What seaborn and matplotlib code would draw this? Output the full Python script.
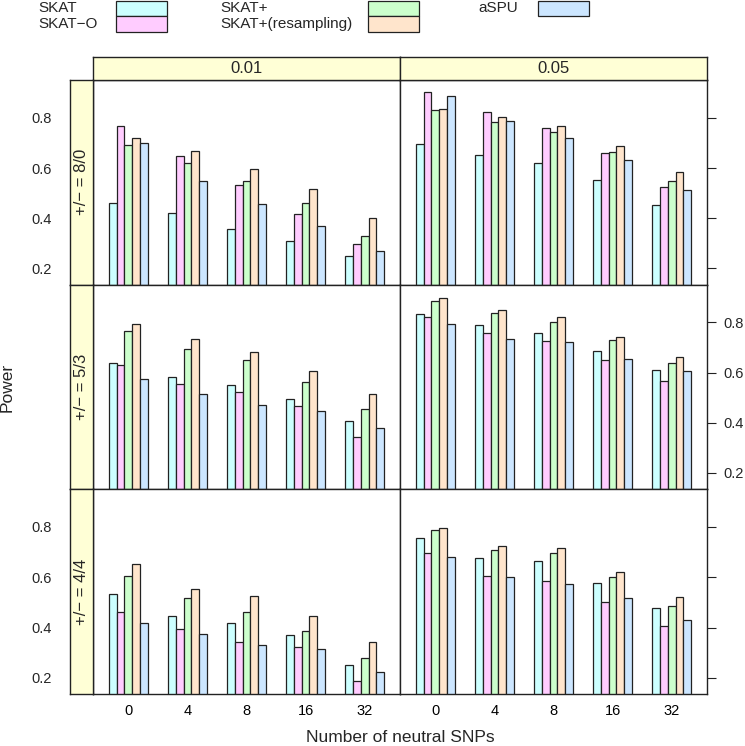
import numpy as np
import pandas as pd
import matplotlib.pyplot as plt
import seaborn as sns
from matplotlib.patches import Rectangle

# Methods, colours and x categories
methods = ["SKAT", "SKAT\u2212O", "SKAT+", "SKAT+(resampling)", "aSPU"]
colors = ["#CCFFFF", "#FFCCFF", "#CCFFCC", "#FFE5CC", "#CCE6FF"]
snps = ["0", "4", "8", "16", "32"]
alphas = ["0.01", "0.05"]
ratios = ["+/\u2212 = 8/0", "+/\u2212 = 5/3", "+/\u2212 = 4/4"]

# Power values (rows = methods, columns = number of neutral SNPs)
pow_a01_80 = [[0.460, 0.420, 0.356, 0.308, 0.249],
              [0.767, 0.649, 0.533, 0.416, 0.296],
              [0.693, 0.619, 0.547, 0.461, 0.331],
              [0.720, 0.669, 0.596, 0.515, 0.400],
              [0.699, 0.548, 0.457, 0.369, 0.268]]
pow_a05_80 = [[0.696, 0.651, 0.619, 0.552, 0.453],
              [0.903, 0.824, 0.760, 0.659, 0.525],
              [0.832, 0.785, 0.744, 0.665, 0.547],
              [0.837, 0.803, 0.767, 0.688, 0.583],
              [0.887, 0.788, 0.721, 0.633, 0.512]]
pow_a01_53 = [[0.637, 0.581, 0.552, 0.496, 0.407],
              [0.631, 0.554, 0.521, 0.465, 0.342],
              [0.767, 0.692, 0.649, 0.564, 0.455],
              [0.793, 0.735, 0.683, 0.605, 0.513],
              [0.573, 0.515, 0.472, 0.445, 0.379]]
pow_a05_53 = [[0.833, 0.789, 0.758, 0.686, 0.611],
              [0.823, 0.758, 0.726, 0.651, 0.566],
              [0.885, 0.839, 0.803, 0.730, 0.637],
              [0.898, 0.850, 0.821, 0.743, 0.661],
              [0.795, 0.734, 0.722, 0.653, 0.606]]
pow_a01_44 = [[0.532, 0.448, 0.418, 0.371, 0.253],
              [0.462, 0.394, 0.342, 0.323, 0.186],
              [0.606, 0.518, 0.463, 0.387, 0.280],
              [0.654, 0.554, 0.524, 0.448, 0.341],
              [0.417, 0.375, 0.331, 0.315, 0.223]]
pow_a05_44 = [[0.757, 0.675, 0.666, 0.579, 0.479],
              [0.696, 0.607, 0.586, 0.503, 0.405],
              [0.787, 0.707, 0.695, 0.603, 0.484],
              [0.797, 0.725, 0.717, 0.621, 0.522],
              [0.679, 0.603, 0.574, 0.519, 0.431]]

paneles = {
    (0, 0): pow_a01_80, (0, 1): pow_a05_80,
    (1, 0): pow_a01_53, (1, 1): pow_a05_53,
    (2, 0): pow_a01_44, (2, 1): pow_a05_44,
}

# Long table for seaborn
filas = []
for (r, c), tabla in paneles.items():
    for m, vals in zip(methods, tabla):
        for s, v in zip(snps, vals):
            filas.append({"ratio": ratios[r], "alpha": alphas[c],
                          "snps": s, "method": m, "power": v})
df = pd.DataFrame(filas)

sns.set_theme(style="white")
plt.rcParams["font.family"] = ["Liberation Sans", "DejaVu Sans"]

W, H = 745, 746
fig = plt.figure(figsize=(W / 100, H / 100), dpi=100)


def caja(x0, y0, x1, y1):
    return [x0 / W, 1 - y1 / H, (x1 - x0) / W, (y1 - y0) / H]


cols_x = [(93, 400), (400, 707)]
rows_y = [(80, 284.5), (284.5, 489), (489, 694)]
ylim = (0.136, 0.951)
yticks = [0.2, 0.4, 0.6, 0.8]
borde = "#222222"
strip_col = "#FFFFD6"

for r in range(3):
    for c in range(2):
        x0, x1 = cols_x[c]
        y0, y1 = rows_y[r]
        ax = fig.add_axes(caja(x0, y0, x1, y1))
        sub = df[(df["ratio"] == ratios[r]) & (df["alpha"] == alphas[c])]
        sns.barplot(data=sub, x="snps", y="power", hue="method",
                    order=snps, hue_order=methods, palette=colors,
                    saturation=1, width=2 / 3, gap=0, errorbar=None,
                    edgecolor=borde, linewidth=0.9, legend=False, ax=ax)
        ax.set_xlim(-0.6, 4.6)
        ax.set_ylim(*ylim)
        ax.set_xlabel("")
        ax.set_ylabel("")
        for sp in ax.spines.values():
            sp.set_color(borde)
            sp.set_linewidth(1.0)
        ax.tick_params(axis="x", length=0, pad=7, labelsize=10.5,
                       labelbottom=(r == 2), colors="black")
        if c == 1:
            ax.set_yticks(yticks)
            ax.yaxis.set_ticks_position("right")
            ax.tick_params(axis="y", which="both", direction="out",
                           length=6.5, width=0.8, pad=5, labelsize=10.5,
                           color=borde, left=False, right=True,
                           labelleft=False, labelright=(r == 1))
        else:
            ax.set_yticks([])

        # top strips (first row only)
        if r == 0:
            sax = fig.add_axes(caja(x0, 57.3, x1, 80))
            sax.set_facecolor(strip_col)
            sax.set_xticks([])
            sax.set_yticks([])
            for sp in sax.spines.values():
                sp.set_color(borde)
                sp.set_linewidth(1.0)
            sax.text(0.5, 0.5, alphas[c], ha="center", va="center",
                     fontsize=12, transform=sax.transAxes)

    # left strips with the left axis ticks
    y0, y1 = rows_y[r]
    lax = fig.add_axes(caja(70.3, y0, 93, y1))
    lax.set_facecolor(strip_col)
    lax.set_ylim(*ylim)
    lax.set_xticks([])
    lax.set_yticks(yticks)
    lax.tick_params(axis="y", direction="out", length=6, width=0.8, pad=7,
                    labelsize=10.5, color=borde, labelleft=(r != 1))
    for sp in lax.spines.values():
        sp.set_color(borde)
        sp.set_linewidth(1.0)
    lax.text(0.5, 0.5, ratios[r], ha="center", va="center", rotation=90,
             fontsize=12, transform=lax.transAxes)

# axis titles
fig.text(7 / W, 1 - 387 / H, "Power", rotation=90, ha="center",
         va="center", fontsize=12.5)
fig.text(400 / W, 1 - 738 / H, "Number of neutral SNPs", ha="center",
         va="center", fontsize=12.5)

# legend (text on the left, box on the right, three columns)
col_txt = [38, 220, 478]
col_box = [116, 368, 538]
for i, (m, col) in enumerate(zip(methods, colors)):
    k, fila = divmod(i, 2)
    ytop = 0.7 + fila * 15.4
    fig.text(col_txt[k] / W, 1 - (ytop + 7.7) / H, m, ha="left",
             va="center", fontsize=11)
    fig.add_artist(Rectangle((col_box[k] / W, 1 - (ytop + 15.4) / H),
                             51 / W, 15.4 / H, facecolor=col,
                             edgecolor=borde, linewidth=0.9,
                             transform=fig.transFigure))

fig.savefig("out.png", dpi=100)
plt.close(fig)
